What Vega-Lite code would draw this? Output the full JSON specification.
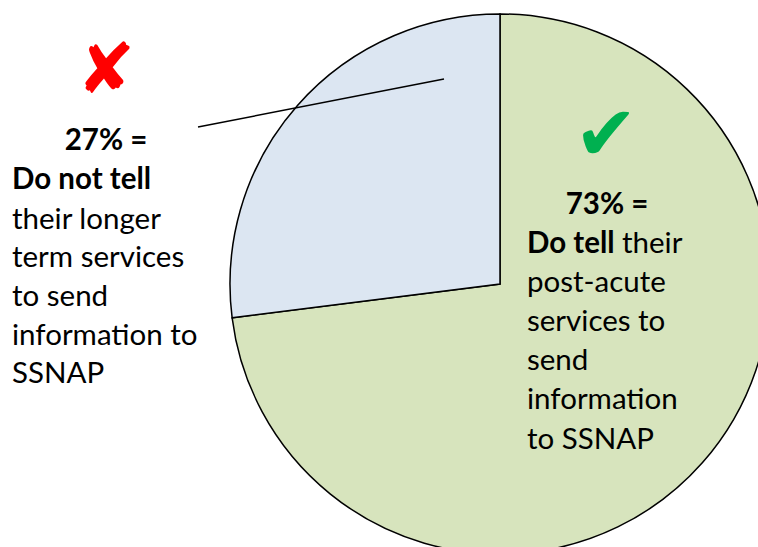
{
  "$schema": "https://vega.github.io/schema/vega-lite/v6.json",
  "width": 758,
  "height": 547,
  "padding": 0,
  "autosize": {"type": "none"},
  "background": "white",
  "config": {"view": {"stroke": null}},
  "datasets": {
    "slices": [
      {"category": "Do tell", "pct": 73, "order": 1},
      {"category": "Do not tell", "pct": 27, "order": 2}
    ],
    "leader": [{"x": 198, "y": 127, "x2": 444, "y2": 79}],
    "cross": [{"x": 106, "y": 72, "symbol": "✘"}],
    "check": [{"x": 606, "y": 137, "symbol": "✔"}],
    "pcts": [
      {"x": 106, "y": 141, "text": "27% ="},
      {"x": 607, "y": 205, "text": "73% ="}
    ],
    "boldLines": [
      {"x": 12, "y": 180, "text": "Do not tell"},
      {"x": 527, "y": 244, "text": "Do tell"}
    ],
    "plainLines": [
      {"x": 12, "y": 220, "text": "their longer"},
      {"x": 12, "y": 258, "text": "term services"},
      {"x": 12, "y": 297, "text": "to send"},
      {"x": 12, "y": 336, "text": "information to"},
      {"x": 12, "y": 374, "text": "SSNAP"},
      {"x": 622, "y": 244, "text": "their"},
      {"x": 527, "y": 283, "text": "post-acute"},
      {"x": 527, "y": 322, "text": "services to"},
      {"x": 527, "y": 361, "text": "send"},
      {"x": 527, "y": 400, "text": "information"},
      {"x": 527, "y": 440, "text": "to SSNAP"}
    ]
  },
  "layer": [
    {
      "data": {"name": "slices"},
      "mark": {"type": "arc", "outerRadius": 270, "stroke": "#000000", "strokeWidth": 1.5},
      "encoding": {
        "theta": {"field": "pct", "type": "quantitative", "stack": true},
        "order": {"field": "order", "type": "quantitative"},
        "color": {"field": "category", "type": "nominal", "scale": {"domain": ["Do tell", "Do not tell"], "range": ["#D7E4BD", "#DCE6F2"]}, "legend": null},
        "x": {"datum": 500, "type": "quantitative", "scale": {"domain": [0, 758], "nice": false, "zero": false}, "axis": null},
        "y": {"datum": 284, "type": "quantitative", "scale": {"domain": [0, 547], "nice": false, "zero": false, "reverse": true}, "axis": null}
      }
    },
    {
      "data": {"name": "leader"},
      "mark": {"type": "rule", "color": "#000000", "strokeWidth": 1.5},
      "encoding": {
        "x": {"field": "x", "type": "quantitative", "axis": null},
        "y": {"field": "y", "type": "quantitative", "axis": null},
        "x2": {"field": "x2"},
        "y2": {"field": "y2"}
      }
    },
    {
      "data": {"name": "cross"},
      "mark": {"type": "text", "font": "DejaVu Sans", "fontSize": 70, "color": "#FF0000", "align": "center", "baseline": "middle"},
      "encoding": {
        "x": {"field": "x", "type": "quantitative", "axis": null},
        "y": {"field": "y", "type": "quantitative", "axis": null},
        "text": {"field": "symbol"}
      }
    },
    {
      "data": {"name": "check"},
      "mark": {"type": "text", "font": "DejaVu Sans", "fontSize": 76, "color": "#00B050", "align": "center", "baseline": "middle"},
      "encoding": {
        "x": {"field": "x", "type": "quantitative", "axis": null},
        "y": {"field": "y", "type": "quantitative", "axis": null},
        "text": {"field": "symbol"}
      }
    },
    {
      "data": {"name": "pcts"},
      "mark": {"type": "text", "font": "Lato", "fontSize": 29.5, "fontWeight": "bold", "color": "#000000", "align": "center", "baseline": "middle"},
      "encoding": {
        "x": {"field": "x", "type": "quantitative", "axis": null},
        "y": {"field": "y", "type": "quantitative", "axis": null},
        "text": {"field": "text"}
      }
    },
    {
      "data": {"name": "boldLines"},
      "mark": {"type": "text", "font": "Lato", "fontSize": 29.5, "fontWeight": "bold", "color": "#000000", "align": "left", "baseline": "middle"},
      "encoding": {
        "x": {"field": "x", "type": "quantitative", "axis": null},
        "y": {"field": "y", "type": "quantitative", "axis": null},
        "text": {"field": "text"}
      }
    },
    {
      "data": {"name": "plainLines"},
      "mark": {"type": "text", "font": "Lato", "fontSize": 29.5, "color": "#000000", "align": "left", "baseline": "middle"},
      "encoding": {
        "x": {"field": "x", "type": "quantitative", "axis": null},
        "y": {"field": "y", "type": "quantitative", "axis": null},
        "text": {"field": "text"}
      }
    }
  ]
}
